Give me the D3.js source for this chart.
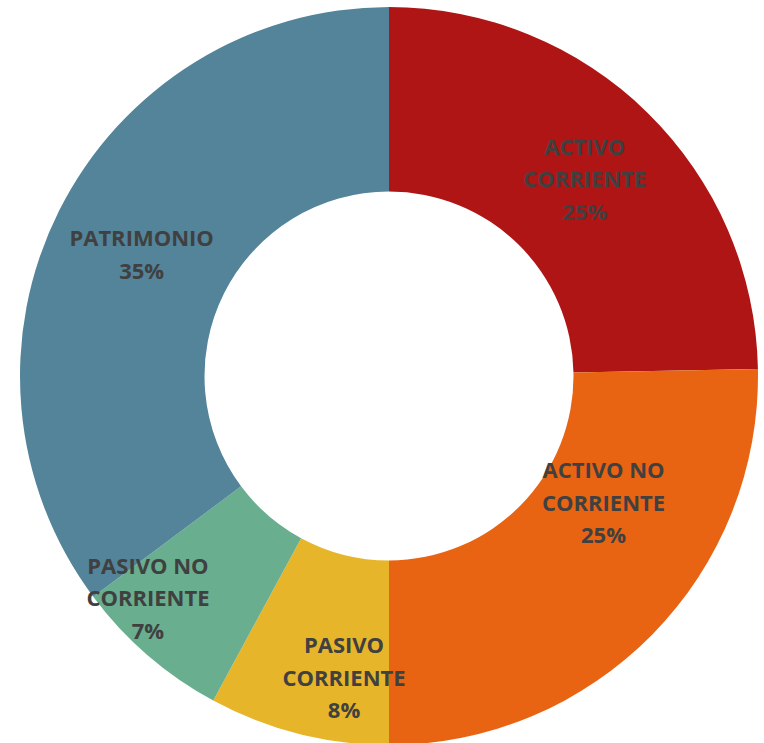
<!DOCTYPE html>
<html>
<head>
<meta charset="utf-8">
<script src="https://cdn.jsdelivr.net/npm/d3@7"></script>
<style>
  html, body { margin: 0; padding: 0; background: #ffffff; }
  svg { display: block; }
</style>
</head>
<body>
<svg id="chart" width="764" height="743"></svg>
<script>
// ---- data ----
const categories = ["ACTIVO CORRIENTE", "ACTIVO NO CORRIENTE", "PASIVO CORRIENTE", "PASIVO NO CORRIENTE", "PATRIMONIO"];
const values = [24.7, 25.3, 7.9, 6.9, 35.2];
const colors = ["#B01515", "#E86412", "#E6B52A", "#68AE8F", "#53849A"];

// ---- layout (label nudges relative to slice centroid, px) ----
const labelNudge = [[2, 1], [17, -67], [23, 34], [-60, 13], [0, 3]];

const W = 764, H = 743;
const cx = 389, cy = 376, outerR = 369, innerR = 184.5;
const lineH = 32.5;

const svg = d3.select("#chart");
const g = svg.append("g").attr("transform", `translate(${cx},${cy})`);

const pie = d3.pie().sort(null).value(d => d.value).startAngle(0).endAngle(2 * Math.PI);
const data = categories.map((c, i) => ({ name: c, value: values[i], color: colors[i], nudge: labelNudge[i] }));
const arcs = pie(data);
const total = d3.sum(values);
const pct = d3.format(".0%");

const arc = d3.arc().innerRadius(innerR).outerRadius(outerR);

g.selectAll("path.slice")
  .data(arcs)
  .join("path")
  .attr("class", "slice")
  .attr("d", arc)
  .attr("fill", d => d.data.color);

const labels = g.selectAll("text.lbl")
  .data(arcs)
  .join("text")
  .attr("class", "lbl")
  .attr("text-anchor", "middle")
  .attr("font-family", "'Open Sans', 'Noto Sans', sans-serif")
  .attr("font-weight", "bold")
  .attr("font-size", 22)
  .attr("fill", "#404040")
  .each(function(d) {
    const c = arc.centroid(d);
    const x = c[0] + d.data.nudge[0];
    const y = c[1] + d.data.nudge[1];
    const lines = d.data.name.replace(" CORRIENTE", "\nCORRIENTE").split("\n");
    lines.push(pct(d.data.value / total));
    const n = lines.length;
    const t = d3.select(this);
    lines.forEach((ln, k) => {
      t.append("tspan")
        .attr("x", x)
        .attr("y", y + (k - (n - 1) / 2) * lineH)
        .attr("dy", "0.35em")
        .text(ln);
    });
  });
</script>
</body>
</html>
